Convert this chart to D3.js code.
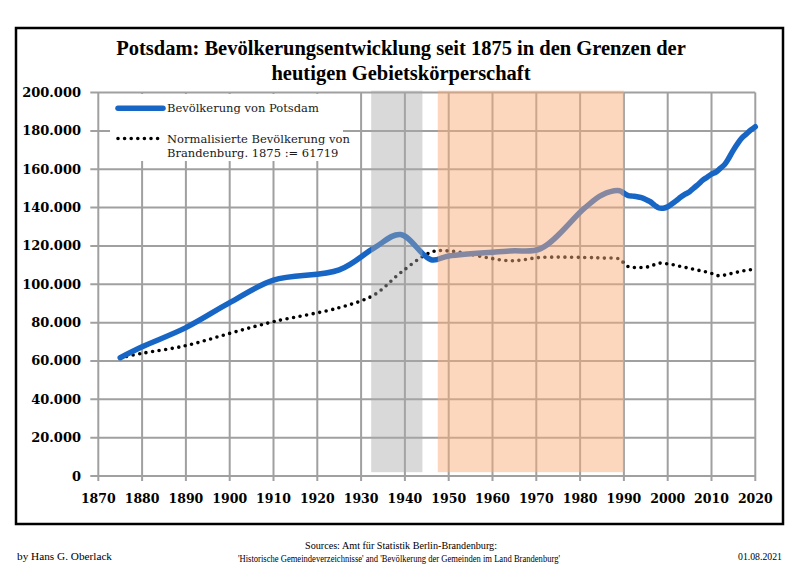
<!DOCTYPE html>
<html>
<head>
<meta charset="utf-8">
<script src="https://cdn.jsdelivr.net/npm/d3@7"></script>
<style>
  html, body { margin: 0; padding: 0; background: #fff; }
  svg { display: block; }
</style>
</head>
<body>
<svg id="chart" width="800" height="566"></svg>
<script>
// ---------------- DATA ----------------
const titleLines = ["Potsdam: Bevölkerungsentwicklung seit 1875 in den Grenzen der", "heutigen Gebietskörperschaft"];

const potsdamYears = [1875, 1880, 1890, 1900, 1910, 1925, 1933, 1939, 1946, 1950, 1964, 1971, 1981, 1985, 1989, 1990,
  1991, 1992, 1993, 1994, 1995, 1996, 1997, 1998, 1999, 2000,
  2001, 2002, 2003, 2004, 2005, 2006, 2007, 2008, 2009, 2010,
  2011, 2012, 2013, 2014, 2015, 2016, 2017, 2018, 2019, 2020];
const potsdamValues = [61719, 67400, 77400, 90400, 102200, 107500, 119000, 126000, 112800, 114800, 117400, 118600, 139700, 146600, 148800, 147500,
  146300, 146000, 145700, 145200, 144300, 143100, 141300, 139800, 139700, 140500,
  142000, 143700, 145500, 147000, 148300, 150300, 152200, 154300, 155900, 157500,
  158500, 160500, 162500, 166000, 170000, 173500, 176500, 178500, 180500, 182200];

const brandenburgYears = [1875, 1880, 1890, 1900, 1910, 1925, 1933, 1939, 1946, 1950, 1964, 1971, 1981, 1985, 1989, 1990,
  1991, 1992, 1993, 1994, 1995, 1996, 1997, 1998, 1999, 2000,
  2001, 2002, 2003, 2004, 2005, 2006, 2007, 2008, 2009, 2010,
  2011, 2012, 2013, 2014, 2015, 2016, 2017, 2018, 2019, 2020];
const brandenburgValues = [61719, 64000, 68000, 74400, 80500, 87800, 94500, 106000, 116800, 117400, 112300, 114000, 114000, 113700, 113200, 111000,
  109200, 108800, 108700, 108800, 109000, 109300, 110300, 111000, 111000, 110600,
  110300, 109800, 109300, 108800, 108300, 107800, 107300, 106900, 106300, 105700,
  104700, 104500, 104800, 105300, 105900, 106400, 106900, 107300, 107600, 107800];

const seriesNames = ["Bevölkerung von Potsdam", "Normalisierte Bevölkerung von", "Brandenburg. 1875 := 61719"];

// shaded periods [start, end]
const naziPeriod = [1932.3, 1944];
const gdrPeriod = [1947.5, 1990];

const yTicks = [0, 20000, 40000, 60000, 80000, 100000, 120000, 140000, 160000, 180000, 200000];
const xTicks = [1870, 1880, 1890, 1900, 1910, 1920, 1930, 1940, 1950, 1960, 1970, 1980, 1990, 2000, 2010, 2020];

const footerLeft = "by Hans G. Oberlack";
const footerSources = ["Sources: Amt für Statistik Berlin-Brandenburg:", "'Historische Gemeindeverzeichnisse' and 'Bevölkerung der Gemeinden im Land Brandenburg'"];
const footerRight = "01.08.2021";

// ---------------- DRAW ----------------
const svg = d3.select("#chart");
const de = d3.formatLocale({decimal: ",", thousands: ".", grouping: [3], currency: ["", " €"]});
const fmt = de.format(",");

const x = d3.scaleLinear().domain([1870, 2020]).range([98.3, 755.3]);
const y = d3.scaleLinear().domain([0, 200000]).range([476, 92.6]);

// frame
svg.append("rect").attr("x", 16).attr("y", 28).attr("width", 767).attr("height", 496)
  .attr("fill", "#fff").attr("stroke", "#000").attr("stroke-width", 2.5);

// gridlines
const grid = svg.append("g").attr("stroke", "#a0a0a0").attr("stroke-width", 2);
grid.selectAll("line.h").data(yTicks).join("line")
  .attr("x1", x(1870) - 8).attr("x2", x(2020))
  .attr("y1", d => y(d)).attr("y2", d => y(d));
grid.selectAll("line.v").data(xTicks).join("line")
  .attr("x1", d => x(d)).attr("x2", d => x(d))
  .attr("y1", y(200000)).attr("y2", y(0) + 5);

// lines
const potsdamData = potsdamYears.map((yr, i) => [yr, potsdamValues[i]]);
const bbData = brandenburgYears.map((yr, i) => [yr, brandenburgValues[i]]);
const line = d3.line().x(d => x(d[0])).y(d => y(d[1])).curve(d3.curveCatmullRom.alpha(0.5));

svg.append("path").attr("d", line(bbData)).attr("fill", "none")
  .attr("stroke", "#000").attr("stroke-width", 3.6)
  .attr("stroke-linecap", "round").attr("stroke-dasharray", "0 6.6");

svg.append("path").attr("d", line(potsdamData)).attr("fill", "none")
  .attr("stroke", "#1765c4").attr("stroke-width", 5.5)
  .attr("stroke-linejoin", "round").attr("stroke-linecap", "round");

// shaded periods (on top, translucent)
svg.append("rect")
  .attr("x", x(naziPeriod[0])).attr("width", x(naziPeriod[1]) - x(naziPeriod[0]))
  .attr("y", y(201000)).attr("height", y(2000) - y(201000))
  .attr("fill", "#a9a9a9").attr("fill-opacity", 0.44);
svg.append("rect")
  .attr("x", x(gdrPeriod[0])).attr("width", x(gdrPeriod[1]) - x(gdrPeriod[0]))
  .attr("y", y(201000)).attr("height", y(2000) - y(201000))
  .attr("fill", "rgb(249,173,122)").attr("fill-opacity", 0.49);

// legend
const lg = svg.append("g");
lg.append("rect").attr("x", 110).attr("y", 94).attr("width", 233).attr("height", 67).attr("fill", "#fff");
lg.append("line").attr("x1", 118).attr("x2", 163).attr("y1", 108.3).attr("y2", 108.3)
  .attr("stroke", "#1765c4").attr("stroke-width", 5.5).attr("stroke-linecap", "round");
lg.append("line").attr("x1", 118).attr("x2", 160).attr("y1", 138.5).attr("y2", 138.5)
  .attr("stroke", "#000").attr("stroke-width", 3.6).attr("stroke-linecap", "round").attr("stroke-dasharray", "0 6.6");
const legendText = lg.append("g").attr("font-family", "'DejaVu Serif', serif").attr("font-size", 11.5).attr("fill", "#1a1a1a");
legendText.append("text").attr("x", 167).attr("y", 112.3).text(seriesNames[0]);
legendText.append("text").attr("x", 167).attr("y", 142.5).text(seriesNames[1]);
legendText.append("text").attr("x", 167).attr("y", 157.3).text(seriesNames[2]);

// axis labels
const axisFont = "'DejaVu Serif', serif";
svg.append("g").selectAll("text").data(yTicks).join("text")
  .attr("x", 81).attr("y", d => y(d) + 4.5)
  .attr("text-anchor", "end").attr("font-family", axisFont).attr("font-weight", "bold")
  .attr("font-size", 13).attr("fill", "#000").text(d => fmt(d));
svg.append("g").selectAll("text").data(xTicks).join("text")
  .attr("x", d => x(d)).attr("y", 503)
  .attr("text-anchor", "middle").attr("font-family", axisFont).attr("font-weight", "bold")
  .attr("font-size", 12.5).attr("fill", "#000").text(d => d);

// title
svg.append("g").selectAll("text").data(titleLines).join("text")
  .attr("x", 401).attr("y", (d, i) => 55 + i * 25)
  .attr("text-anchor", "middle").attr("font-family", "'Liberation Serif', serif")
  .attr("font-weight", "bold").attr("font-size", 20.5).attr("fill", "#000").text(d => d);

// footer
const ft = svg.append("g").attr("font-family", "'Liberation Serif', serif").attr("font-size", 10).attr("fill", "#000");
ft.append("text").attr("x", 17).attr("y", 560).attr("textLength", 95).attr("lengthAdjust", "spacingAndGlyphs").text(footerLeft);
ft.append("text").attr("x", 401).attr("y", 549).attr("text-anchor", "middle").attr("textLength", 192).attr("lengthAdjust", "spacingAndGlyphs").text(footerSources[0]);
ft.append("text").attr("x", 399).attr("y", 562).attr("text-anchor", "middle").attr("textLength", 322).attr("lengthAdjust", "spacingAndGlyphs").text(footerSources[1]);
ft.append("text").attr("x", 782).attr("y", 560).attr("text-anchor", "end").attr("textLength", 44).attr("lengthAdjust", "spacingAndGlyphs").text(footerRight);
</script>
</body>
</html>
